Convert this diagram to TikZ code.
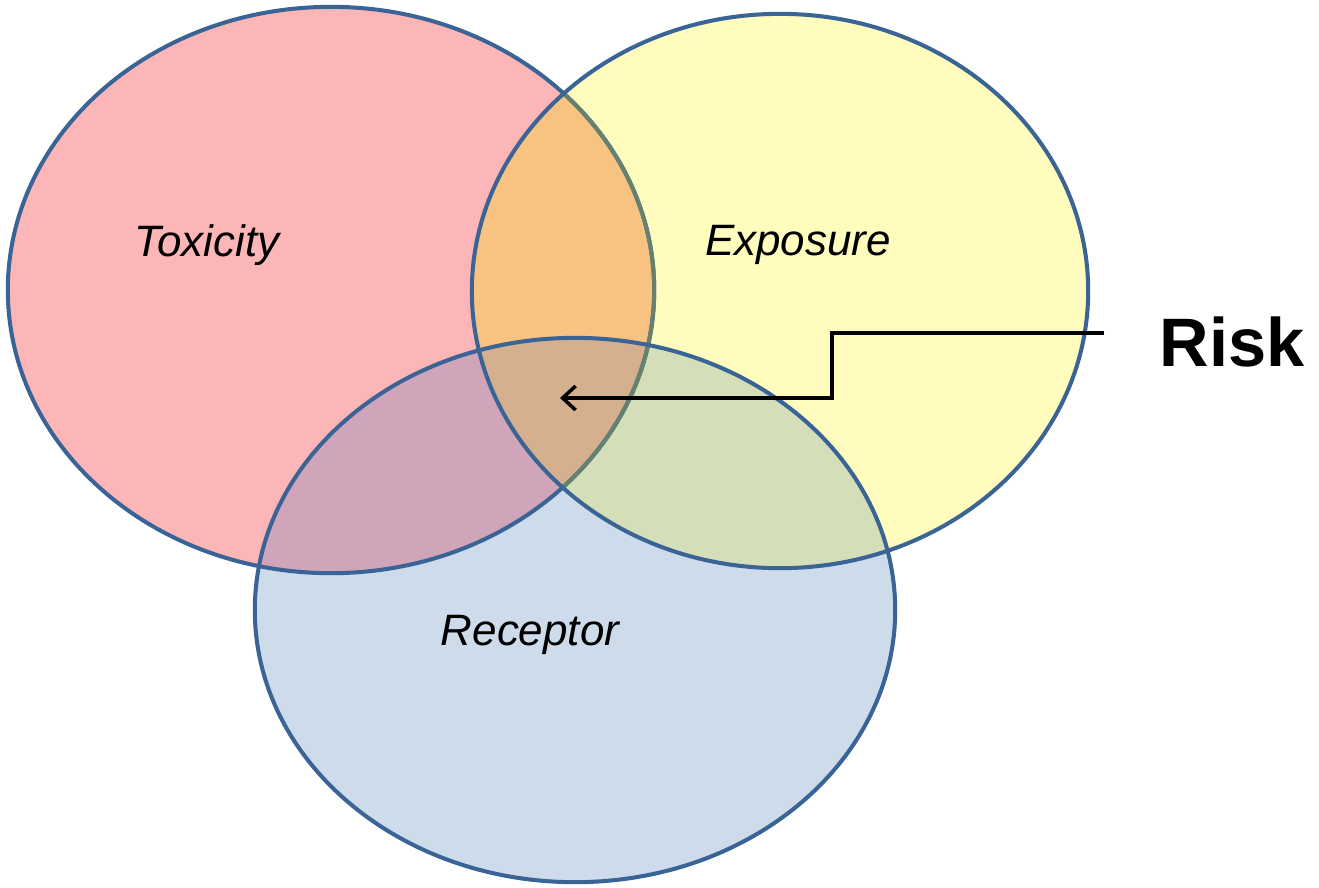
\documentclass[tikz,border=0pt]{standalone}
\usepackage{fontspec}
\setmainfont{Liberation Sans}
\usetikzlibrary{arrows.meta}
\definecolor{toxpink}{RGB}{253,182,183}
\definecolor{expyellow}{RGB}{255,252,190}
\definecolor{recblue}{RGB}{206,219,235}
\definecolor{toxexp}{RGB}{248,194,128}
\definecolor{toxrec}{RGB}{209,165,185}
\definecolor{exprec}{RGB}{212,223,185}
\definecolor{riskcore}{RGB}{212,176,143}
\definecolor{vennblue}{RGB}{59,100,150}
\definecolor{vennshade}{RGB}{100,130,110}
\tikzstyle{vennline} = [line width=1.15pt, draw=vennblue]
\tikzstyle{vennlabel} = [font=\itshape\fontsize{12.5}{15}\selectfont]
\tikzstyle{risklabel} = [font=\bfseries\fontsize{19.5}{23}\selectfont]
\tikzstyle{riskarrow} = [line width=1pt, -{Straight Barb[length=1.3mm, width=2.4mm]}]

\newcommand{\toxshape}{(331,290) ellipse [x radius=3.23cm, y radius=2.83cm]}
\newcommand{\expshape}{(780,291) ellipse [x radius=3.08cm, y radius=2.77cm]}
\newcommand{\recshape}{(575,610) ellipse [x radius=3.20cm, y radius=2.72cm]}

\begin{document}
\begin{tikzpicture}[x=0.01cm, y=-0.01cm]
  \useasboundingbox (0,0) rectangle (1319,887);

  % Single sets
  \fill[toxpink] \toxshape;
  \fill[expyellow] \expshape;
  \fill[recblue] \recshape;

  % Pairwise overlaps
  \begin{scope}
    \clip \toxshape;
    \fill[toxexp] \expshape;
    \fill[toxrec] \recshape;
  \end{scope}
  \begin{scope}
    \clip \expshape;
    \fill[exprec] \recshape;
  \end{scope}

  % Triple overlap
  \begin{scope}
    \clip \toxshape;
    \clip \expshape;
    \fill[riskcore] \recshape;
  \end{scope}

  % Outlines
  \draw[vennline] \toxshape;
  \begin{scope}
    \clip \expshape;
    \draw[vennline, draw=vennshade] \toxshape;
  \end{scope}
  \draw[vennline] \expshape;
  \draw[vennline] \recshape;

  % Labels
  \node (tox) [vennlabel] at (207,245) {Toxicity};
  \node (exp) [vennlabel] at (798,245) {Exposure};
  \node (rec) [vennlabel] at (530,635) {Receptor};
  \node (risk) [risklabel] at (1232,342) {Risk};

  % Risk pointer
  \coordinate (bend) at (832,398);
  \coordinate (core) at (560,398);
  \draw [riskarrow] ([xshift=-0.43cm, yshift=0.09cm]risk.west) -| (bend) -- (core);
\end{tikzpicture}
\end{document}
